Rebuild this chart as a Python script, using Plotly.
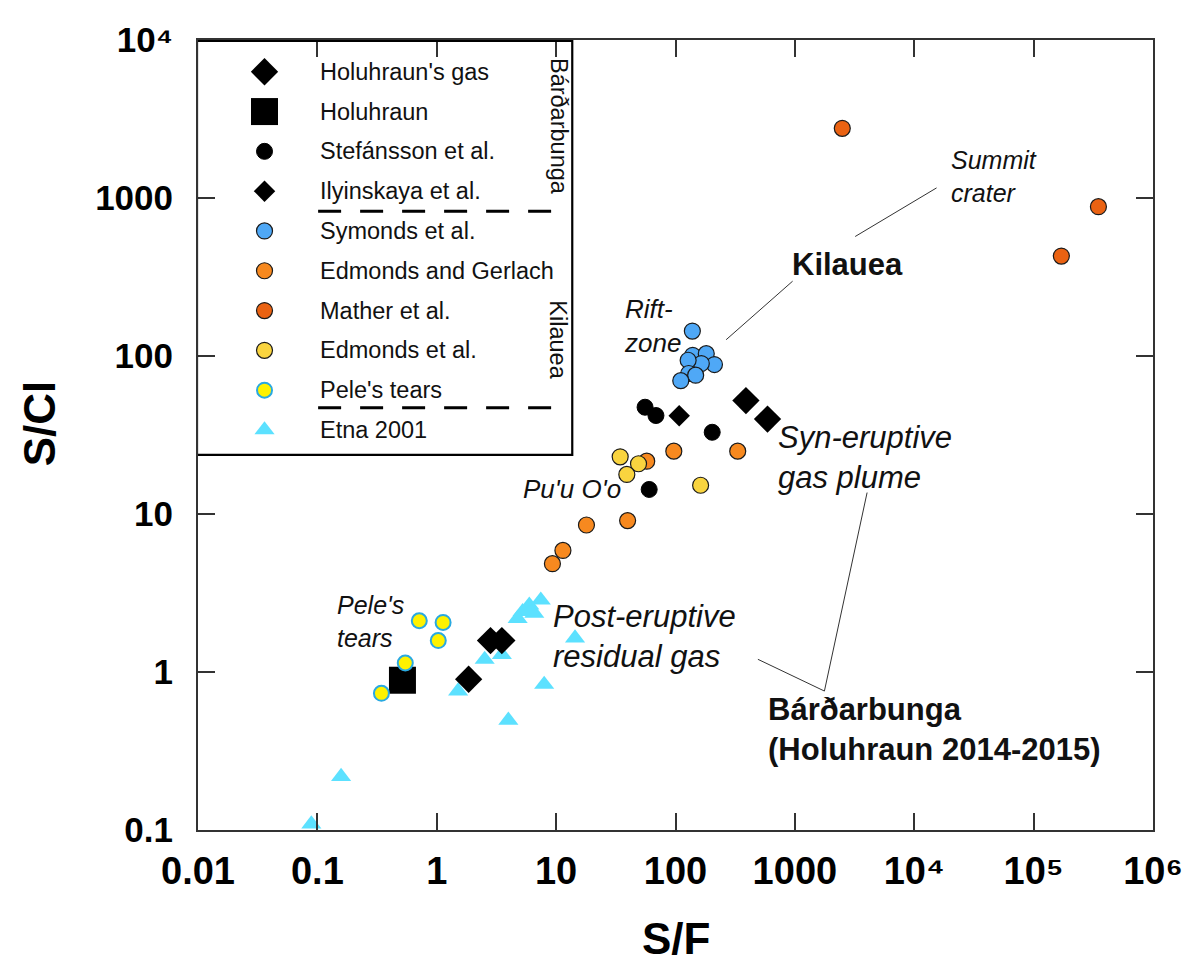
import plotly.graph_objects as go

# ---------------- data ----------------
x_ticks = [0.01, 0.1, 1, 10, 100, 1000, 1e4, 1e5, 1e6]
x_ticktext = ["0.01", "0.1", "1", "10", "100", "1000", "10⁴", "10⁵", "10⁶"]
y_ticks = [0.1, 1, 10, 100, 1000, 1e4]
y_ticktext = ["0.1", "1", "10", "100", "1000", "10⁴"]

etna_sf = [0.089, 0.158, 1.51, 2.52, 3.51, 3.98, 7.94, 14.4, 7.44, 5.96, 5.24, 4.76, 6.56, 6.14]
etna_scl = [0.109, 0.218, 0.757, 1.20, 1.29, 0.495, 0.834, 1.64, 2.85, 2.65, 2.41, 2.18, 2.35, 2.41]

mather_sf = [2495, 349000, 170700]
mather_scl = [2761, 881, 429]

gerlach_sf = [57.4, 96.8, 332, 17.95, 39.7, 11.4, 9.31]
gerlach_scl = [21.6, 25.0, 25.0, 8.52, 9.08, 5.88, 4.85]

edmonds_sf = [34.4, 49.0, 39.1, 162.3]
edmonds_scl = [23.0, 20.8, 17.8, 15.2]

symonds_sf = [138.4, 139.3, 181, 212, 164.5, 127.6, 129, 147.5, 110.7]
symonds_scl = [143.8, 101, 103.5, 88.3, 89.6, 94, 77.5, 75.6, 69.8]

stef_sf = [55.6, 68.6, 203, 60.2]
stef_scl = [47.4, 42.0, 32.9, 14.3]

ilyin_sf = [107.4]
ilyin_scl = [41.8]

holu_sq_sf = [0.516]
holu_sq_scl = [0.887]

pele_sf = [0.714, 1.13, 1.03, 0.545, 0.344]
pele_scl = [2.11, 2.06, 1.58, 1.14, 0.733]

holu_gas_sf = [389, 590, 2.82, 3.51, 1.85]
holu_gas_scl = [52.2, 39.9, 1.58, 1.58, 0.90]

# ---------------- styles ----------------
FONT = "Liberation Sans, Arial, sans-serif"
styles = {
    "Holuhraun's gas": dict(symbol="diamond", size=21, color="black", line=dict(width=0)),
    "Holuhraun": dict(symbol="square", size=27, color="black", line=dict(width=0)),
    "Stefánsson et al.": dict(symbol="circle", size=16, color="black", line=dict(width=1, color="black")),
    "Ilyinskaya et al.": dict(symbol="diamond", size=16.5, color="black", line=dict(width=0)),
    "Symonds et al.": dict(symbol="circle", size=16, color="#4FA8F6", line=dict(width=1.2, color="#1a1a1a")),
    "Edmonds and Gerlach": dict(symbol="circle", size=16, color="#F7891F", line=dict(width=1.2, color="#1a1a1a")),
    "Mather et al.": dict(symbol="circle", size=16, color="#EA6212", line=dict(width=1.2, color="#1a1a1a")),
    "Edmonds et al.": dict(symbol="circle", size=16, color="#F9D43F", line=dict(width=1.2, color="#1a1a1a")),
    "Pele's tears": dict(symbol="circle", size=15, color="#FFF200", line=dict(width=2, color="#29A9E1")),
    "Etna 2001": dict(symbol="triangle-up", size=17.5, color="#5CE1FF", line=dict(width=0)),
}

series = {
    "Holuhraun's gas": (holu_gas_sf, holu_gas_scl),
    "Holuhraun": (holu_sq_sf, holu_sq_scl),
    "Stefánsson et al.": (stef_sf, stef_scl),
    "Ilyinskaya et al.": (ilyin_sf, ilyin_scl),
    "Symonds et al.": (symonds_sf, symonds_scl),
    "Edmonds and Gerlach": (gerlach_sf, gerlach_scl),
    "Mather et al.": (mather_sf, mather_scl),
    "Edmonds et al.": (edmonds_sf, edmonds_scl),
    "Pele's tears": (pele_sf, pele_scl),
    "Etna 2001": (etna_sf, etna_scl),
}
legend_order = list(series.keys())
draw_order = ["Etna 2001", "Mather et al.", "Edmonds and Gerlach", "Edmonds et al.",
              "Symonds et al.", "Stefánsson et al.", "Ilyinskaya et al.", "Holuhraun",
              "Pele's tears", "Holuhraun's gas"]

# ---------------- layout geometry (pixels, page coordinates) ----------------
PAGE_OFF = 8                      # default body margin of the html page
W, H = 1195 - PAGE_OFF, 969 - PAGE_OFF
PX0, PX1 = 198, 1160              # plot area in page pixels
PY0, PY1 = 34, 830
ML, MT = PX0 - PAGE_OFF, PY0 - PAGE_OFF
MR, MB = W - (PX1 - PAGE_OFF), H - (PY1 - PAGE_OFF)

def paper_x(px):
    return (px - PX0) / (PX1 - PX0)

def paper_y(py):
    return (PY1 - py) / (PY1 - PY0)

fig = go.Figure()

for name in draw_order:
    sf, scl = series[name]
    fig.add_trace(go.Scatter(x=sf, y=scl, mode="markers", name=name,
                             marker=styles[name], cliponaxis=False,
                             showlegend=False, hoverinfo="skip"))

# ---- hand-made legend on a pixel overlay axis ----
LEG_X_MARK, LEG_X_TEXT, LEG_Y0, LEG_DY = 265, 319, 66, 40.1
for i, name in enumerate(legend_order):
    yy = LEG_Y0 + i * LEG_DY
    fig.add_trace(go.Scatter(x=[LEG_X_MARK], y=[yy], mode="markers", xaxis="x2", yaxis="y2",
                             marker=styles[name], showlegend=False, hoverinfo="skip"))
    fig.add_annotation(x=LEG_X_TEXT, y=yy, xref="x2", yref="y2", text=name, showarrow=False,
                       xanchor="left", yanchor="middle",
                       font=dict(family=FONT, size=23.5, color="#111"))

shapes = [
    dict(type="rect", xref="x2", yref="y2", x0=197, x1=575, y0=35, y1=452,
         line=dict(color="black", width=2.2)),
    dict(type="line", xref="x2", yref="y2", x0=319, x1=557, y0=206.5, y1=206.5,
         line=dict(color="black", width=3, dash="23px,19px")),
    dict(type="line", xref="x2", yref="y2", x0=319, x1=557, y0=404.5, y1=404.5,
         line=dict(color="black", width=3, dash="23px,19px")),
    # leader lines
    dict(type="line", xref="x2", yref="y2", x0=860, y0=232, x1=942, y1=183, line=dict(color="#333", width=1)),
    dict(type="line", xref="x2", yref="y2", x0=797, y0=277, x1=730, y1=336, line=dict(color="#333", width=1)),
    dict(type="line", xref="x2", yref="y2", x0=872, y0=490, x1=829, y1=690, line=dict(color="#333", width=1)),
    dict(type="line", xref="x2", yref="y2", x0=762, y0=658, x1=829, y1=690, line=dict(color="#333", width=1)),
]
fig.update_layout(shapes=shapes)

fig.add_annotation(x=561, y=121, xref="x2", yref="y2", text="Bárðarbunga", textangle=90,
                   showarrow=False, font=dict(family=FONT, size=23.5, color="#111"))
fig.add_annotation(x=561, y=336, xref="x2", yref="y2", text="Kilauea", textangle=90,
                   showarrow=False, font=dict(family=FONT, size=23.5, color="#111"))

def note(txt, x, y, size, bold=False, italic=False):
    fig.add_annotation(x=x, y=y, xref="x2", yref="y2", text=txt, showarrow=False,
                       xanchor="left", yanchor="middle", align="left",
                       font=dict(family=FONT, size=size, color="#111",
                                 weight="bold" if bold else "normal",
                                 style="italic" if italic else "normal"))

note("Summit<br>crater", 955, 172, 25, italic=True)
note("Kilauea", 794, 260, 31, bold=True)
note("Rift-<br>zone", 625, 322, 26, italic=True)
note("Pu'u O'o", 523, 486, 26, italic=True)
note("Syn-eruptive<br>gas plume", 780, 455, 31, italic=True)
note("Post-eruptive<br>residual gas", 554, 635, 31, italic=True)
note("Pele's<br>tears", 336, 620, 25, italic=True)
note("Bárðarbunga<br>(Holuhraun 2014-2015)", 770, 729, 31, bold=True)

# axis titles (paper coordinates: they sit outside the plotting area)
fig.add_annotation(x=paper_x(38), y=paper_y(420), xref="paper", yref="paper", text="S/Cl",
                   textangle=-90, showarrow=False, xanchor="center", yanchor="middle",
                   borderpad=0, font=dict(family=FONT, size=44, color="black", weight="bold"))
fig.add_annotation(x=paper_x(679), y=paper_y(939), xref="paper", yref="paper", text="S/F",
                   showarrow=False, xanchor="center", yanchor="middle",
                   borderpad=0, font=dict(family=FONT, size=44, color="black", weight="bold"))

axis_common = dict(type="log", ticks="inside", ticklen=17, tickwidth=1.5, tickcolor="#333",
                   showline=True, linewidth=2, linecolor="#333", mirror="ticks",
                   showgrid=False, zeroline=False)

fig.update_layout(
    width=W, height=H,
    margin=dict(l=ML, r=MR, t=MT, b=MB),
    plot_bgcolor="white", paper_bgcolor="white",
    showlegend=False,
    xaxis=dict(range=[-2, 6], tickvals=x_ticks, ticktext=x_ticktext,
               tickfont=dict(family=FONT, size=38, color="black", weight="bold"),
               ticklabelstandoff=6, **axis_common),
    yaxis=dict(range=[-1, 4], tickvals=y_ticks, ticktext=y_ticktext,
               tickfont=dict(family=FONT, size=35, color="black", weight="bold"),
               ticklabelstandoff=16, **axis_common),
    xaxis2=dict(overlaying="x", range=[PX0, PX1], visible=False, fixedrange=True),
    yaxis2=dict(overlaying="y", range=[PY1, PY0], visible=False, fixedrange=True),
)

fig.write_html("out.html")
